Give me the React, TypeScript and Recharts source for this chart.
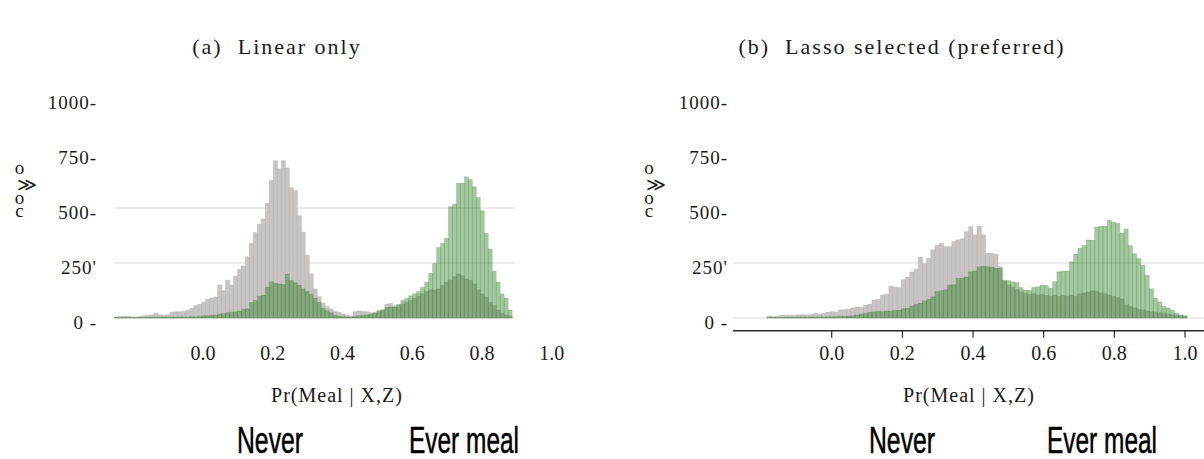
import React from 'react';
import { BarChart, Bar, XAxis, YAxis, CartesianGrid, Legend } from 'recharts';

const seriesNames = ['Never', 'Ever meal'];
const panelTitles = ['(a)  Linear only', '(b)  Lasso selected (preferred)'];
const xAxisTitle = 'Pr(Meal | X,Z)';
const yAxisGlyphs = ['o', '≫', 'o', 'c'];
const xTicks = [0, 0.2, 0.4, 0.6, 0.8, 1.0];
const yTicks = [0, 250, 500, 750, 1000];
const yTickLabels = ['0 -', "250'", '500-', '750-', '1000-'];

// histogram bins on the Pr scale (start of first bin, bin width)
const binStartA = -0.2545;
const binWidthA = 0.01141;
const neverA = [
  5, 6, 8, 8, 5, 4, 6, 10, 12, 14,
  22, 14, 12, 14, 26, 28, 28, 30, 34, 44,
  56, 62, 72, 84, 90, 96, 150, 124, 172, 150,
  190, 222, 236, 278, 340, 388, 426, 450, 520, 625,
  715, 678, 715, 682, 592, 580, 465, 390, 284, 200,
  132, 97, 67, 52, 41, 30, 26, 18, 12, 8,
  28, 32, 30, 28, 24, 26, 34, 38, 62, 66,
  55, 58, 62, 70, 80, 90, 100, 110, 120, 128,
  127, 132, 147, 162, 173, 188, 200, 192, 177, 170,
  155, 127, 109, 94, 71, 56, 36, 21, 14, 9,
];
const everA = [
  2, 3, 3, 2, 2, 2, 3, 3, 3, 3,
  3, 3, 4, 4, 4, 4, 5, 5, 5, 6,
  6, 8, 10, 10, 12, 14, 18, 20, 24, 26,
  28, 32, 40, 42, 70, 80, 100, 104, 140, 165,
  158, 155, 152, 200, 170, 160, 150, 133, 120, 108,
  90, 70, 45, 33, 24, 12, 8, 6, 5, 5,
  8, 10, 12, 14, 18, 22, 30, 36, 48, 50,
  50, 62, 79, 90, 101, 110, 121, 140, 162, 203,
  248, 321, 339, 362, 506, 518, 612, 612, 642, 630,
  597, 548, 488, 385, 314, 212, 162, 109, 91, 36,
];

const binStartB = -0.1831;
const binWidthB = 0.01189;
const neverB = [
  8, 7, 8, 12, 11, 13, 12, 14, 15, 14,
  16, 20, 18, 21, 26, 28, 27, 36, 38, 40,
  46, 50, 48, 58, 62, 82, 84, 104, 108, 144,
  140, 138, 174, 186, 209, 220, 277, 247, 270, 310,
  330, 339, 324, 324, 347, 355, 360, 392, 415, 377,
  418, 377, 294, 294, 289, 233, 165, 150, 140, 128,
  118, 112, 108, 110, 104, 106, 102, 100, 104, 98,
  102, 100, 104, 98, 110, 114, 118, 124, 120, 114,
  110, 104, 98, 92, 86, 60, 52, 46, 40, 36,
  32, 28, 26, 24, 22, 18, 15, 12, 10, 8,
];
const everB = [
  2, 2, 2, 3, 3, 3, 3, 3, 4, 4,
  4, 5, 5, 5, 6, 6, 7, 8, 8, 9,
  10, 14, 18, 22, 26, 28, 30, 30, 32, 32,
  34, 36, 42, 44, 55, 62, 68, 78, 85, 97,
  120, 124, 128, 150, 152, 180, 182, 186, 210, 214,
  233, 235, 233, 232, 226, 226, 173, 170, 165, 160,
  139, 127, 126, 139, 142, 150, 148, 135, 165, 210,
  212, 214, 256, 291, 317, 330, 355, 353, 414, 417,
  417, 444, 435, 429, 386, 403, 330, 292, 270, 240,
  194, 133, 90, 73, 52, 45, 35, 22, 14, 10,
];

const toRows = (start: number, width: number, never: number[], ever: number[]) =>
  never.map((n, i) => ({ x: start + width * (i + 0.5), never: n, ever: ever[i] }));

const rowsA = toRows(binStartA, binWidthA, neverA, everA);
const rowsB = toRows(binStartB, binWidthB, neverB, everB);

const SERIF = '"Liberation Serif", "DejaVu Serif", serif';
const SANS = '"Liberation Sans", Arial, sans-serif';
const GREY = '#c9c5c4';
const GREEN = '#28801f';

const YTick = (props: any) => {
  const { x, y, payload, gap } = props;
  const label = yTickLabels[yTicks.indexOf(payload.value)];
  return (
    <text x={x - gap} y={y + 4} dy="0.35em" textAnchor="end" fontFamily={SERIF} fontSize={19} fill="#1a1a1a" letterSpacing={1}>
      {label}
    </text>
  );
};

// the y title shows up as a short stack of glyphs in the reference
const GlyphLabel = (props: any) => {
  const { cx } = props;
  const rows = [[0, 174], [7, 191], [0, 204], [0, 217]];
  return (
    <text fontFamily={SERIF} fontSize={19} fill="#1a1a1a" textAnchor="middle">
      {yAxisGlyphs.map((g, i) => (
        <tspan key={i} x={cx + rows[i][0]} y={rows[i][1]}>{g}</tspan>
      ))}
    </text>
  );
};

const XTitle = (props: any) => {
  const { cx } = props;
  return (
    <text x={cx} y={402} textAnchor="middle" fontFamily={SERIF} fontSize={20} fill="#1a1a1a" letterSpacing={1}>
      {xAxisTitle}
    </text>
  );
};

const legendLengths = [66, 110];

const NameLegend = (props: any) => {
  const { payload, centers, width } = props;
  return (
    <svg width={width} height={40} style={{ display: 'block', overflow: 'visible' }}>
      {(payload || []).map((p: any) => {
        const k = seriesNames.indexOf(p.value);
        return (
          <text
            key={p.value}
            x={centers[k]}
            y={34}
            textAnchor="middle"
            fontFamily={SANS}
            fontSize={36}
            fill="#000"
            stroke="#000"
            strokeWidth={0.5}
            textLength={legendLengths[k]}
            lengthAdjust="spacingAndGlyphs"
          >
            {p.value}
          </text>
        );
      })}
    </svg>
  );
};

type PanelProps = {
  left: number;
  width: number;
  yAxisWidth: number;
  marginRight: number;
  xDomain: [number, number];
  rows: any[];
  barSize: number;
  axisLine: boolean;
  gridValues: number[];
  tickGap: number;
  glyphX: number;
  titleX: number;
  xTitleX: number;
  legendX: number[];
  title: string;
};

function Panel(p: PanelProps) {
  return (
    <div style={{ position: 'absolute', left: p.left, top: 0, width: p.width, height: 459 }}>
      <BarChart
        width={p.width}
        height={459}
        data={p.rows}
        margin={{ top: 98, right: p.marginRight, bottom: 98.24, left: 0 }}
        barGap={0}
        barCategoryGap={0}
      >
        <CartesianGrid vertical={false} horizontalValues={p.gridValues} stroke="#e6e6e6" strokeWidth={1.5} />
        <XAxis
          dataKey="x"
          type="number"
          domain={p.xDomain}
          allowDataOverflow
          ticks={xTicks}
          interval={0}
          height={30}
          tickSize={7}
          tickMargin={8}
          tickFormatter={(v: number) => v.toFixed(1)}
          tick={{ fontFamily: SERIF, fontSize: 20, fill: '#1a1a1a' }}
          axisLine={p.axisLine ? { stroke: '#2b2b2b', strokeWidth: 1.5 } : false}
          tickLine={p.axisLine ? { stroke: '#2b2b2b', strokeWidth: 1.2 } : false}
          label={<XTitle cx={p.xTitleX} />}
        />
        <XAxis xAxisId="ever" dataKey="x" type="number" domain={p.xDomain} allowDataOverflow hide />
        <YAxis
          type="number"
          domain={[-58, 1000]}
          allowDataOverflow
          ticks={yTicks}
          interval={0}
          width={p.yAxisWidth}
          axisLine={false}
          tickLine={false}
          tickSize={0}
          tickMargin={0}
          tick={<YTick gap={p.tickGap} />}
          label={<GlyphLabel cx={p.glyphX} />}
        />
        <Legend
          layout="horizontal"
          verticalAlign="middle"
          align="center"
          wrapperStyle={{ left: 0, top: 419, width: p.width, height: 40 }}
          content={<NameLegend centers={p.legendX} width={p.width} />}
        />
        <Bar
          dataKey="never"
          name={seriesNames[0]}
          fill={GREY}
          stroke="#b2aead"
          strokeWidth={0.5}
          barSize={p.barSize}
          isAnimationActive={false}
        />
        <Bar
          dataKey="ever"
          xAxisId="ever"
          name={seriesNames[1]}
          fill={GREEN}
          fillOpacity={0.42}
          stroke="#2d5e31"
          strokeOpacity={0.35}
          strokeWidth={0.5}
          barSize={p.barSize}
          isAnimationActive={false}
        />
      </BarChart>
      <div
        style={{
          position: 'absolute',
          left: p.titleX,
          top: 34,
          transform: 'translateX(-50%)',
          whiteSpace: 'pre',
          fontFamily: SERIF,
          fontSize: 22,
          letterSpacing: 2,
          color: '#1a1a1a',
        }}
      >
        {p.title}
      </div>
    </div>
  );
}

export default function App() {
  return (
    <div style={{ position: 'absolute', left: 0, top: 0, width: 1204, height: 459, background: '#fff', overflow: 'hidden' }}>
      <Panel
        left={0}
        width={600}
        yAxisWidth={114}
        marginRight={85}
        xDomain={[-0.2552, 0.8946]}
        rows={rowsA}
        barSize={3.96}
        axisLine={false}
        gridValues={[0, 250, 500]}
        tickGap={17}
        glyphX={19.5}
        titleX={277}
        xTitleX={337}
        legendX={[270, 464]}
        title={panelTitles[0]}
      />
      <Panel
        left={600}
        width={604}
        yAxisWidth={133}
        marginRight={0}
        xDomain={[-0.2794, 1.0538]}
        rows={rowsB}
        barSize={4.18}
        axisLine={true}
        gridValues={[0, 250]}
        tickGap={5}
        glyphX={49}
        titleX={302}
        xTitleX={369}
        legendX={[302, 502]}
        title={panelTitles[1]}
      />
    </div>
  );
}
